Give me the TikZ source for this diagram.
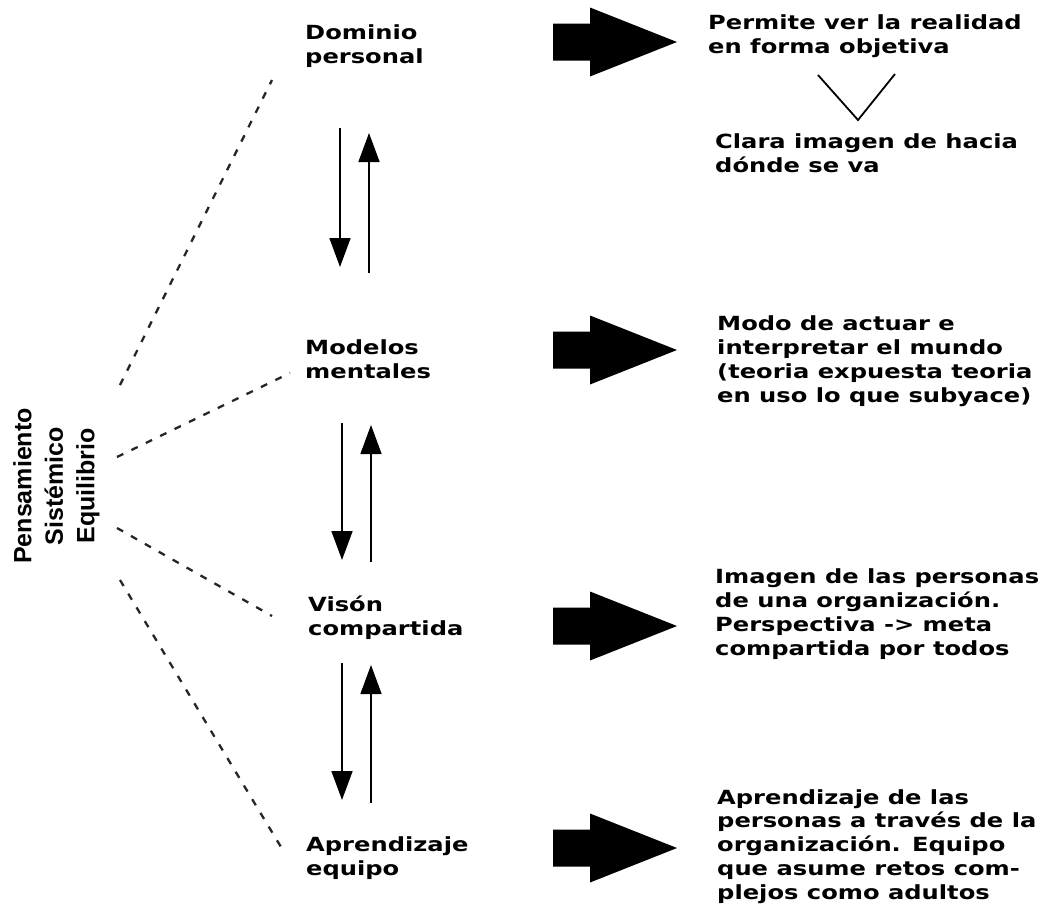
\documentclass[tikz,border=0pt]{standalone}
\usepackage{fontspec}
\newfontfamily\labfont{DejaVu Sans}[FakeStretch=1.24]
\newfontfamily\rotfont{Liberation Sans}
\usetikzlibrary{arrows.meta}
\begin{document}
\begin{tikzpicture}[x=1pt,y=-1pt,
  lbl/.style={anchor=base west, align=left, inner sep=0pt,
    font=\labfont\bfseries\fontsize{19.5pt}{23.7pt}\selectfont},
  desc/.style={lbl},
  dashline/.style={line width=2.3pt, dash pattern=on 7pt off 9pt, black!85},
  varrow/.style={line width=1.6pt, -{Triangle[width=21pt,length=29pt]}},
  bigarrow/.pic={\fill (0,-18.5) -- (37,-18.5) -- (37,-34.5) -- (124,0) -- (37,34.5) -- (37,18.5) -- (0,18.5) -- cycle;}
]
\useasboundingbox (0,0) rectangle (1055,911);
\fill[white] (0,0) rectangle (1055,911);

% central rotated label
\node[rotate=90, align=center, inner sep=0pt,
  font=\rotfont\bfseries\fontsize{25pt}{31.5pt}\selectfont] (ps) at (56.5,486)
  {Pensamiento\\Sistémico\\Equilibrio};

% left labels (anchored at the baseline of their last line)
\node[lbl] (dom) at (305,63) {Dominio\\personal};
\node[lbl] (mod) at (305,378) {Modelos\\mentales};
\node[lbl] (vis) at (308,635) {Visón\\compartida};
\node[lbl] (apr) at (306,875) {Aprendizaje\\equipo};

% right descriptions (anchored at the baseline of their last line)
\node[desc] (t1) at (708,53) {Permite ver la realidad\\en forma objetiva};
\node[desc] (t1b) at (715,172) {Clara imagen de hacia\\dónde se va};
\node[desc] (t2) at (717,402) {Modo de actuar e\\interpretar el mundo\\(teoria expuesta teoria\\en uso lo que subyace)};
\node[desc] (t3) at (715,655) {Imagen de las personas\\de una organización.\\Perspectiva -> meta\\compartida por todos};
\node[desc] (t4) at (717,899) {Aprendizaje de las\\personas a través de la\\organización. Equipo\\que asume retos com-\\plejos como adultos};

% V shape
\coordinate (v1) at (818,75);
\coordinate (v2) at (858,120);
\coordinate (v3) at (895,74);
\draw[line width=1.8pt] (v1) -- (v2) -- (v3);

% big block arrows
\pic at (553,42) {bigarrow};
\pic at (553,350) {bigarrow};
\pic at (553,626) {bigarrow};
\pic at (553,848) {bigarrow};

% vertical arrow pairs
\coordinate (a1s) at (340,128); \coordinate (a1e) at (340,267);
\coordinate (b1s) at (369,273); \coordinate (b1e) at (369,133);
\coordinate (a2s) at (342,423); \coordinate (a2e) at (342,560);
\coordinate (b2s) at (371,562); \coordinate (b2e) at (371,425);
\coordinate (a3s) at (342,663); \coordinate (a3e) at (342,800);
\coordinate (b3s) at (371,803); \coordinate (b3e) at (371,665);
\draw[varrow] (a1s) -- (a1e);
\draw[varrow] (b1s) -- (b1e);
\draw[varrow] (a2s) -- (a2e);
\draw[varrow] (b2s) -- (b2e);
\draw[varrow] (a3s) -- (a3e);
\draw[varrow] (b3s) -- (b3e);

% dashed lines
\coordinate (d1s) at (120,385); \coordinate (d1e) at (272,80);
\coordinate (d2s) at (117,457); \coordinate (d2e) at (290,373);
\coordinate (d3s) at (117,528); \coordinate (d3e) at (272,616);
\coordinate (d4s) at (120,580); \coordinate (d4e) at (284,852);
\draw[dashline] (d1s) -- (d1e);
\draw[dashline] (d2s) -- (d2e);
\draw[dashline] (d3s) -- (d3e);
\draw[dashline] (d4s) -- (d4e);
\end{tikzpicture}
\end{document}
